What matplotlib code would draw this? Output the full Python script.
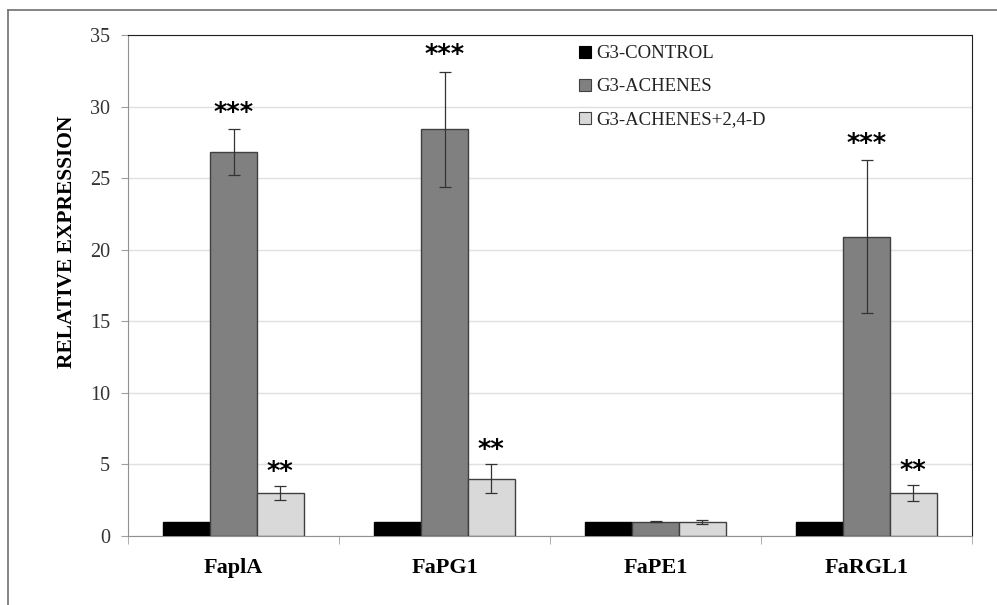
import matplotlib
matplotlib.use("Agg")
import matplotlib.pyplot as plt
import numpy as np
from matplotlib.lines import Line2D

categories = ["FaplA", "FaPG1", "FaPE1", "FaRGL1"]
series_names = ["G3-CONTROL", "G3-ACHENES", "G3-ACHENES+2,4-D"]
control = [1.0, 1.0, 1.0, 1.0]
achenes = [26.8, 28.4, 1.0, 20.9]
achenes_err = [1.6, 4.05, 0.05, 5.35]
achenes_d = [3.0, 4.0, 1.0, 3.0]
achenes_d_err = [0.5, 1.0, 0.15, 0.55]
control_err = [0.0, 0.0, 0.0, 0.0]
sig_achenes = ["***", "***", "", "***"]
sig_achenes_d = ["**", "**", "", "**"]
yticks = [0, 5, 10, 15, 20, 25, 30, 35]

colors = ["#000000", "#808080", "#d9d9d9"]

fig = plt.figure(figsize=(9.97, 6.05), dpi=100)
ax = fig.add_axes([128/997, 69/605, (972-128)/997, (536-35)/605])

x = np.arange(len(categories))
w = 0.222
vals = [control, achenes, achenes_d]
errs = [control_err, achenes_err, achenes_d_err]
for i, (v, e, c) in enumerate(zip(vals, errs, colors)):
    pos = x + (i - 1) * w
    ax.bar(pos, v, width=w, color=c, edgecolor="#404040" if i > 0 else "#000000",
           linewidth=1.0, zorder=3)
    if i > 0:
        ax.errorbar(pos, v, yerr=e, fmt="none", ecolor="#333333", elinewidth=0.9,
                    capsize=4, capthick=0.9, zorder=4)

for j in range(len(categories)):
    if sig_achenes[j]:
        ax.text(x[j], achenes[j] + achenes_err[j] + 0.15, sig_achenes[j],
                ha="center", va="bottom", fontsize=18.5, fontweight="bold",
                family="DejaVu Sans", zorder=5)
    if sig_achenes_d[j]:
        ax.text(x[j] + w, achenes_d[j] + achenes_d_err[j] + 0.0, sig_achenes_d[j],
                ha="center", va="bottom", fontsize=18.5, fontweight="bold",
                family="DejaVu Sans", zorder=5)

ax.set_xlim(-0.5, len(categories) - 0.5)
ax.set_ylim(0, 35)
ax.set_yticks(yticks)
ax.set_yticklabels([str(t) for t in yticks], family="Liberation Serif",
                   fontsize=14.5, color="#333333")
ax.set_xticks(x)
ax.set_xticklabels(categories, family="Liberation Serif", fontsize=16,
                   fontweight="bold")
ax.tick_params(axis="x", length=0, pad=16)
ax.set_xticks(np.arange(len(categories) + 1) - 0.5, minor=True)
ax.tick_params(axis="x", which="minor", length=6, color="#a0a0a0", direction="out")
ax.tick_params(axis="y", length=5, color="#a0a0a0", direction="out", pad=8)
ax.yaxis.grid(True, color="#e0e0e0", linewidth=1.0, zorder=0)
ax.set_axisbelow(True)

for s in ["left", "bottom"]:
    ax.spines[s].set_color("#909090")
for s in ["top", "right"]:
    ax.spines[s].set_color("#202020")

ax.set_ylabel("RELATIVE EXPRESSION", family="Liberation Serif", fontsize=15.5,
              fontweight="bold")
ax.yaxis.set_label_coords(-0.061, 0.587)

handles = [Line2D([0], [0], marker="s", linestyle="none", markersize=8,
                  markerfacecolor=c, markeredgecolor="#404040" if i else "#000000",
                  markeredgewidth=0.8) for i, c in enumerate(colors)]
leg = ax.legend(handles, series_names, loc="upper left",
                bbox_to_anchor=(0.522, 0.995), frameon=False,
                prop={"family": "Liberation Serif", "size": 13.5},
                handletextpad=0.1, labelspacing=0.85, handlelength=1.0,
                borderaxespad=0)
for t in leg.get_texts():
    t.set_color("#222222")

# outer frame
fig.add_artist(Line2D([8/997, 1.0], [1 - 10/605, 1 - 10/605],
                      transform=fig.transFigure, color="#707070", linewidth=1.2))
fig.add_artist(Line2D([8/997, 8/997], [0, 1 - 10/605],
                      transform=fig.transFigure, color="#707070", linewidth=1.2))

fig.savefig("out.png", dpi=100)
